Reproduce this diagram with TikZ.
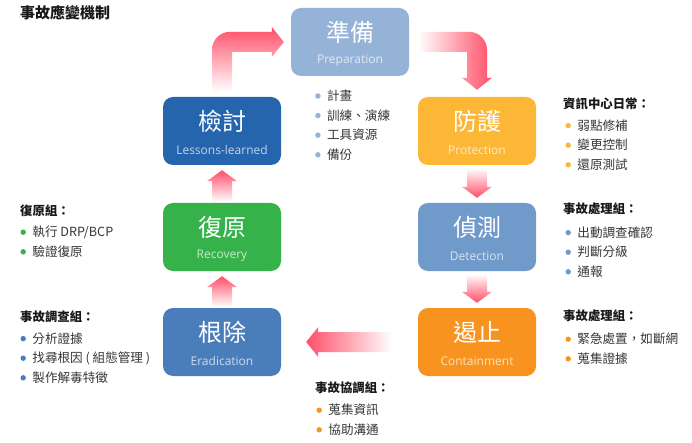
\documentclass[tikz,border=0pt]{standalone}
\usepackage{fontspec}
\setmainfont{Noto Sans CJK TC}
\newfontfamily\enfont{Open Sans}
\usepackage{xcolor}
\usetikzlibrary{calc}
\definecolor{cprep}{RGB}{149,179,215}
\definecolor{cprot}{RGB}{251,183,53}
\definecolor{cdet}{RGB}{112,154,202}
\definecolor{ccont}{RGB}{247,147,30}
\definecolor{cerad}{RGB}{74,126,187}
\definecolor{crec}{RGB}{53,179,74}
\definecolor{cless}{RGB}{37,101,174}
\definecolor{carr}{RGB}{255,78,104}
\definecolor{ctitle}{RGB}{25,25,25}
\definecolor{ctext}{RGB}{55,55,55}
\newcommand{\bul}[1]{\textcolor{#1}{\tikz[baseline=-4.7pt]\fill (0,0) circle (2.7pt);}\hspace{6.5pt}}

\begin{document}
\begin{tikzpicture}[x=1pt,y=-1pt]
\tikzstyle{every node}+=[inner sep=0pt]
\tikzstyle{box}=[rounded corners=10pt, minimum width=118pt, minimum height=68pt]
\tikzstyle{zh}=[text=white, font=\fontsize{24}{24}\selectfont]
\tikzstyle{en}=[font=\enfont\fontsize{12}{12}\selectfont]
\tikzstyle{hd}=[anchor=base west, text=ctitle, font=\bfseries\fontsize{12.4}{12.4}\selectfont]
\tikzstyle{lst}=[anchor=base west, align=left, text=ctext, font=\fontsize{12.6}{19.6}\selectfont]
\fill [white] (0,0) rectangle (692,443);
\useasboundingbox (0,0) rectangle (692,443);

\node [anchor=base west, text=ctitle, font=\bfseries\fontsize{15}{15}\selectfont] (title) at (20,18.5) {事故應變機制};

\node [box, fill=cprep] (prep) at (350,42) {};
\node [zh] (prepzh) at ([yshift=9.5pt]prep.center) {準備};
\node [en, text=white!72!cprep] (prepen) at ([yshift=-19pt]prep.center) {Preparation};
\node [box, fill=cprot] (prot) at (477,131) {};
\node [zh] (protzh) at ([yshift=9.5pt]prot.center) {防護};
\node [en, text=white!72!cprot] (proten) at ([yshift=-19pt]prot.center) {Protection};
\node [box, fill=cdet] (det) at (477,237) {};
\node [zh] (detzh) at ([yshift=9.5pt]det.center) {偵測};
\node [en, text=white!72!cdet] (deten) at ([yshift=-19pt]det.center) {Detection};
\node [box, fill=ccont] (cont) at (477,342) {};
\node [zh] (contzh) at ([yshift=9.5pt]cont.center) {遏止};
\node [en, text=white!72!ccont] (conten) at ([yshift=-19pt]cont.center) {Containment};
\node [box, fill=cerad] (erad) at (222,342) {};
\node [zh] (eradzh) at ([yshift=9.5pt]erad.center) {根除};
\node [en, text=white!72!cerad] (eraden) at ([yshift=-19pt]erad.center) {Eradication};
\node [box, fill=crec] (rec) at (222,237) {};
\node [zh] (reczh) at ([yshift=9.5pt]rec.center) {復原};
\node [en, text=white!72!crec] (recen) at ([yshift=-19pt]rec.center) {Recovery};
\node [box, fill=cless] (less) at (222,131) {};
\node [zh] (lesszh) at ([yshift=9.5pt]less.center) {檢討};
\node [en, text=white!72!cless] (lessen) at ([yshift=-19pt]less.center) {Lessons-learned};

\shade [left color=white, right color=carr] ($(prep.east)+(9,-10)$) -- ($(prot.north)+(-8,-65)$) arc [start angle=270, end angle=360, radius=18] -- ($(prot.north)+(10,-19)$) -- ++(5,0) -- ($(prot.north)+(0,-7)$) -- ++(-15,-12) -- ++(5,0) -- ($(prot.north)+(-10,-45)$) -- ($(prep.east)+(9,10)$) -- cycle;
\shade [top color=white, bottom color=carr] ($(prot.south)+(-10,3)$) -- ($(det.north)+(-10,-16)$) -- ++(-5,0) -- ($(det.north)+(0,-5)$) -- ++(15,-11) -- ++(-5,0) -- ($(prot.south)+(10,3)$) -- cycle;
\shade [top color=white, bottom color=carr] ($(det.south)+(-10,3)$) -- ($(cont.north)+(-10,-16)$) -- ++(-5,0) -- ($(cont.north)+(0,-5)$) -- ++(15,-11) -- ++(-5,0) -- ($(det.south)+(10,3)$) -- cycle;
\shade [left color=carr, right color=white] ($(cont.west)+(-26,-10)$) -- ($(erad.east)+(37,-10)$) -- ++(0,-5) -- ($(erad.east)+(25,0)$) -- ++(12,15) -- ++(0,-5) -- ($(cont.west)+(-26,10)$) -- cycle;
\shade [top color=carr, bottom color=white] ($(erad.north)+(-10,-1)$) -- ($(rec.south)+(-10,16)$) -- ++(-5,0) -- ($(rec.south)+(0,5)$) -- ++(15,11) -- ++(-5,0) -- ($(erad.north)+(10,-1)$) -- cycle;
\shade [top color=carr, bottom color=white] ($(rec.north)+(-10,-1)$) -- ($(less.south)+(-10,16)$) -- ++(-5,0) -- ($(less.south)+(0,5)$) -- ++(15,11) -- ++(-5,0) -- ($(rec.north)+(10,-1)$) -- cycle;
\shade [top color=carr, middle color=carr!75!white, bottom color=white] ($(less.north)+(-10,-5)$) -- ($(less.north)+(-10,-47)$) arc [start angle=180, end angle=270, radius=18] -- ($(prep.west)+(-19,-10)$) -- ++(0,-5) -- ($(prep.west)+(-7,0)$) -- ++(-12,15) -- ++(0,-5) -- ($(less.north)+(10,-45)$) -- ($(less.north)+(10,-5)$) -- cycle;

\node [lst] (preplist) at (315,159.5) {\bul{cprep}計畫\\\bul{cprep}訓練、演練\\\bul{cprep}工具資源\\\bul{cprep}備份};
\node [hd] (prothd) at (563,108.5) {資訊中心日常：};
\node [lst] (protlist) at (565.3,169.5) {\bul{cprot}弱點修補\\\bul{cprot}變更控制\\\bul{cprot}還原測試};
\node [hd] (dethd) at (563,213.5) {事故處理組：};
\node [lst] (detlist) at (565.3,276.5) {\bul{cdet}出動調查確認\\\bul{cdet}判斷分級\\\bul{cdet}通報};
\node [hd] (conthd) at (563,320.5) {事故處理組：};
\node [lst] (contlist) at (565.3,363.5) {\bul{ccont}緊急處置，如斷網\\\bul{ccont}蒐集證據};
\node [hd] (coordhd) at (315,392.5) {事故協調組：};
\node [lst] (coordlist) at (316.3,434.5) {\bul{ccont}蒐集資訊\\\bul{ccont}協助溝通};
\node [hd] (rechd) at (20,215.5) {復原組：};
\node [lst] (reclist) at (20.3,256.5) {\bul{crec}執行 DRP/BCP\\\bul{crec}驗證復原};
\node [hd] (eradhd) at (20,321.5) {事故調查組：};
\node [lst] (eradlist) at (20.3,382.5) {\bul{cerad}分析證據\\\bul{cerad}找尋根因 ( 組態管理 )\\\bul{cerad}製作解毒特徵};
\end{tikzpicture}
\end{document}
